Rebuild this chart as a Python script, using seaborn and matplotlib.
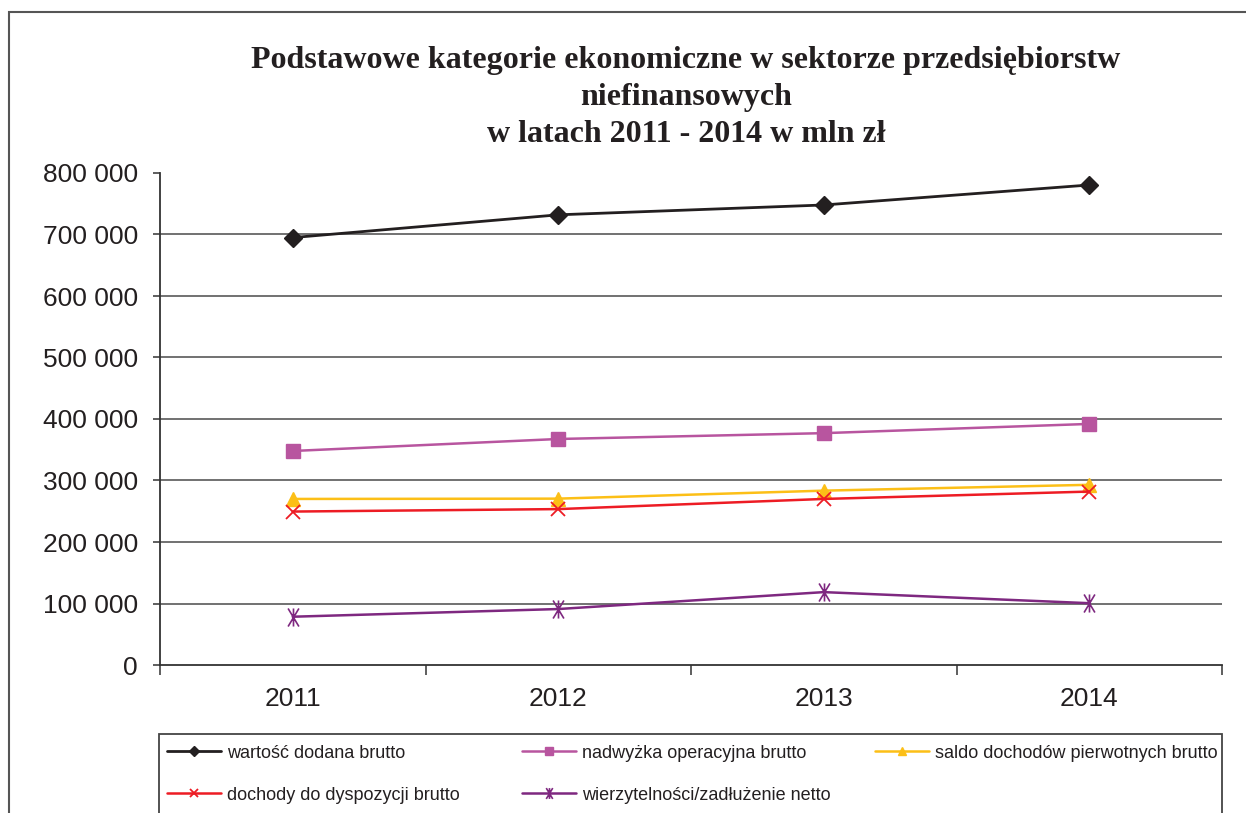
import numpy as np
import pandas as pd
import matplotlib
matplotlib.use("Agg")
import matplotlib.pyplot as plt
import seaborn as sns
from matplotlib.patches import Rectangle
from matplotlib.path import Path
from matplotlib.ticker import FuncFormatter, MultipleLocator, FixedLocator
from matplotlib.lines import Line2D

# ---------------- data ----------------
years = ["2011", "2012", "2013", "2014"]
wartosc_dodana = [695000, 732000, 748000, 780500]
nadwyzka_operacyjna = [348000, 367500, 377000, 392000]
saldo_dochodow = [270000, 270500, 283500, 293000]
dochody_dyspozycji = [249500, 253500, 270000, 282000]
wierzytelnosci = [78500, 91000, 118500, 100500]

series_names = [
    "wartość dodana brutto",
    "nadwyżka operacyjna brutto",
    "saldo dochodów pierwotnych brutto",
    "dochody do dyspozycji brutto",
    "wierzytelności/zadłużenie netto",
]
series_values = [wartosc_dodana, nadwyzka_operacyjna, saldo_dochodow,
                 dochody_dyspozycji, wierzytelnosci]

title_lines = [
    "Podstawowe kategorie ekonomiczne w sektorze przedsiębiorstw",
    "niefinansowych",
    "w latach 2011 - 2014 w mln zł",
]

# ---------------- styles ----------------
star_path = Path(
    [(-0.6, -1.0), (0.6, 1.0), (-0.6, 1.0), (0.6, -1.0), (0.0, -1.0), (0.0, 1.0)],
    [Path.MOVETO, Path.LINETO, Path.MOVETO, Path.LINETO, Path.MOVETO, Path.LINETO],
)
styles = {
    series_names[0]: dict(color="#231f20", marker="D", ms=9, lw=2.0, mew=1.0),
    series_names[1]: dict(color="#b8559f", marker="s", ms=10, lw=1.8, mew=1.0),
    series_names[2]: dict(color="#fcbf17", marker="^", ms=10.5, lw=1.8, mew=1.0),
    series_names[3]: dict(color="#ed1c24", marker="x", ms=10, lw=1.8, mew=1.3),
    series_names[4]: dict(color="#7e2880", marker=star_path, ms=13, lw=1.8, mew=1.2),
}

W, H = 1246, 813
sns.set_theme(style="white")
plt.rcParams["font.family"] = ["Liberation Sans", "DejaVu Sans"]

fig = plt.figure(figsize=(W / 100, H / 100), dpi=100)
fig.patch.set_facecolor("white")

ax = fig.add_axes([160 / W, 1 - 665 / H, (1222 - 160) / W, (665 - 173) / H])

df = pd.DataFrame(
    [(i, v, name) for name, vals in zip(series_names, series_values)
     for i, v in enumerate(vals)],
    columns=["pos", "value", "series"],
)

handles = []
for name in series_names:
    st = styles[name]
    sub = df[df["series"] == name]
    sns.lineplot(data=sub, x="pos", y="value", ax=ax, color=st["color"],
                 linewidth=st["lw"], marker=st["marker"], markersize=st["ms"],
                 markeredgewidth=st["mew"], markeredgecolor=st["color"],
                 markerfacecolor=st["color"], legend=False, zorder=3)
    handles.append(Line2D([], [], color=st["color"], lw=st["lw"], marker=st["marker"],
                          markersize=st["ms"] * 0.6, markeredgewidth=st["mew"],
                          markeredgecolor=st["color"], markerfacecolor=st["color"]))

# axes formatting
ax.set_xlim(-0.5, len(years) - 0.5)
ax.set_ylim(0, 800000)
ax.yaxis.set_major_locator(MultipleLocator(100000))
ax.yaxis.set_major_formatter(FuncFormatter(lambda v, p: f"{v:,.0f}".replace(",", " ")))
ax.set_xticks(range(len(years)))
ax.set_xticklabels(years)
ax.xaxis.set_minor_locator(FixedLocator(np.arange(-0.5, len(years), 1.0)))
ax.set_xlabel("")
ax.set_ylabel("")

ax.tick_params(axis="y", which="major", direction="out", length=5, width=1.1,
               color="#333333", labelsize=19, pad=11, labelcolor="#231f20", left=True)
ax.tick_params(axis="x", which="major", length=0, labelsize=19, pad=16,
               labelcolor="#231f20")
ax.tick_params(axis="x", which="minor", direction="out", length=7, width=1.1,
               color="#333333", bottom=True)

for s in ["top", "right"]:
    ax.spines[s].set_visible(False)
for s in ["left", "bottom"]:
    ax.spines[s].set_visible(True)
    ax.spines[s].set_color("#333333")
    ax.spines[s].set_linewidth(1.3)

# gridlines at the interior y ticks only (none at the top of the axis)
ax.grid(False)
lo, hi = ax.get_ylim()
grid_y = [t for t in ax.get_yticks() if lo < t < hi]
ax.hlines(grid_y, -0.5, len(years) - 0.5, colors="#4a4a4a", linewidth=1.1, zorder=1)
ax.set_facecolor("white")

# title
for i, line in enumerate(title_lines):
    fig.text(686 / W, 1 - (68 + 37 * i) / H, line, ha="center", va="baseline",
             fontsize=23, fontweight="bold", family=["Liberation Serif", "DejaVu Serif"],
             color="#231f20")

# outer frame
fig.add_artist(Rectangle((9 / W, -0.1), 1.5, 1 - 12.5 / H + 0.1, transform=fig.transFigure,
                         fill=False, edgecolor="#555555", linewidth=1.5))
# legend frame
fig.add_artist(Rectangle((159 / W, -0.1), (1222 - 159) / W, 1 - 734 / H + 0.1,
                         transform=fig.transFigure, fill=False, edgecolor="#444444",
                         linewidth=1.3))

# legend entries
leg_pos = [(167, 753), (522, 753), (875, 753), (167, 795), (522, 795)]
for h, name, (lx, ly) in zip(handles, series_names, leg_pos):
    leg = fig.legend([h], [name], loc="center left", bbox_to_anchor=(lx / W, 1 - ly / H),
                     frameon=False, fontsize=13, handlelength=3.0, handletextpad=0.3,
                     borderpad=0, borderaxespad=0)
    for t in leg.get_texts():
        t.set_color("#231f20")

fig.savefig("out.png", dpi=100, facecolor="white")
